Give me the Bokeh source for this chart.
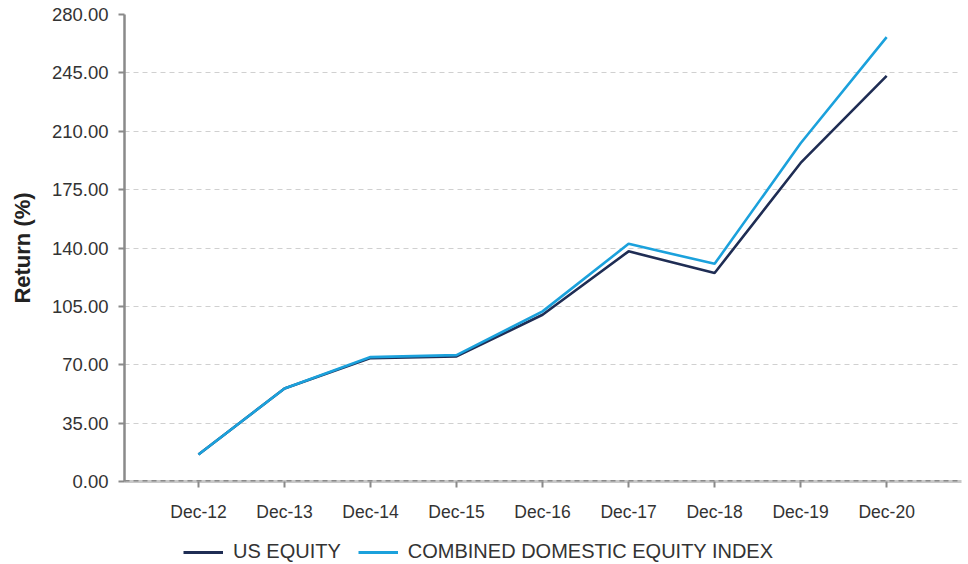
from bokeh.plotting import figure
from bokeh.layouts import column
from bokeh.models import ColumnDataSource, FixedTicker, Range1d, Legend, LegendItem, Span, NumeralTickFormatter
from bokeh.embed import file_html
from bokeh.resources import INLINE

categories = ["Dec-12", "Dec-13", "Dec-14", "Dec-15", "Dec-16", "Dec-17", "Dec-18", "Dec-19", "Dec-20"]
us_equity = [16.2, 55.8, 74.0, 75.0, 100.0, 138.0, 125.0, 191.0, 243.2]
combined_index = [16.2, 55.8, 74.6, 75.8, 102.0, 142.5, 130.5, 202.8, 266.4]
y_ticks = [0, 35, 70, 105, 140, 175, 210, 245, 280]
series_names = ["US EQUITY", "COMBINED DOMESTIC EQUITY INDEX"]

FONT = "Liberation Sans"
TXT = "#333333"
C_US = "#1f2d54"
C_COMB = "#1ba1dc"

xs = list(range(len(categories)))
src = ColumnDataSource(dict(x=xs, us=us_equity, comb=combined_index))

p = figure(width=968, height=524, output_backend="svg", toolbar_location=None,
           x_range=Range1d(-0.86, 8.87), y_range=Range1d(0, 280),
           min_border_left=124, min_border_right=7, min_border_top=14, min_border_bottom=43)
p.outline_line_color = None
p.background_fill_color = "white"

p.line("x", "us", source=src, line_color=C_US, line_width=2.6)
p.line("x", "comb", source=src, line_color=C_COMB, line_width=2.6)

# axes
p.xaxis.ticker = FixedTicker(ticks=xs)
p.xaxis.major_label_overrides = {i: c for i, c in enumerate(categories)}
p.yaxis.ticker = FixedTicker(ticks=y_ticks)
p.yaxis.formatter = NumeralTickFormatter(format="0.00")
for ax in (p.xaxis[0], p.yaxis[0]):
    ax.major_label_text_font = FONT
    ax.major_label_text_color = TXT
    ax.minor_tick_line_color = None
    ax.major_tick_in = 0
    ax.major_tick_out = 6
    ax.major_tick_line_color = "#8a8a8a"
    ax.major_tick_line_width = 2
p.xaxis.major_label_text_font_size = "17.5px"
p.yaxis.major_label_text_font_size = "18.5px"
p.yaxis.axis_line_color = "#8a8a8a"
p.yaxis.axis_line_width = 2.5
p.yaxis.major_label_standoff = 10
p.xaxis.axis_line_color = "#c8c8c8"
p.xaxis.axis_line_width = 3
p.xaxis.major_label_standoff = 14
p.yaxis.axis_label = "Return (%)"
p.yaxis.axis_label_text_font = FONT
p.yaxis.axis_label_text_font_size = "22px"
p.yaxis.axis_label_text_font_style = "bold"
p.yaxis.axis_label_text_color = "#222222"
p.yaxis.axis_label_standoff = 14

p.xgrid.grid_line_color = None
p.ygrid.grid_line_color = "#d0d0d0"
p.ygrid.grid_line_dash = "5 4"
p.ygrid.grid_line_width = 1

zero = Span(location=0, dimension="width", line_color="#8a8a8a", line_width=3, line_dash="5 4")
p.add_layout(zero)

# legend strip below the chart (its frame is aligned with the chart's frame)
lf = figure(width=968, height=40, output_backend="svg", toolbar_location=None,
            x_range=Range1d(0, 1), y_range=Range1d(0, 1),
            min_border_left=0, min_border_right=0, min_border_top=0, min_border_bottom=0)
lf.outline_line_color = None
lf.axis.visible = False
lf.grid.grid_line_color = None
hidden = ColumnDataSource(dict(x=[-10, -9], y=[-10, -10]))
l1 = lf.line("x", "y", source=hidden, line_color=C_US, line_width=3)
l2 = lf.line("x", "y", source=hidden, line_color=C_COMB, line_width=3)
legend = Legend(items=[LegendItem(label=series_names[0], renderers=[l1]),
                       LegendItem(label=series_names[1], renderers=[l2])],
                orientation="horizontal", location=(59, 1),
                label_text_font=FONT, label_text_font_size="20px", label_text_color=TXT,
                glyph_width=40, label_standoff=10, spacing=17, padding=0, margin=0,
                border_line_color=None, background_fill_alpha=0)
lf.add_layout(legend, "center")

layout = column(p, lf, spacing=0)
open("out.html", "w").write(file_html(layout, INLINE))
